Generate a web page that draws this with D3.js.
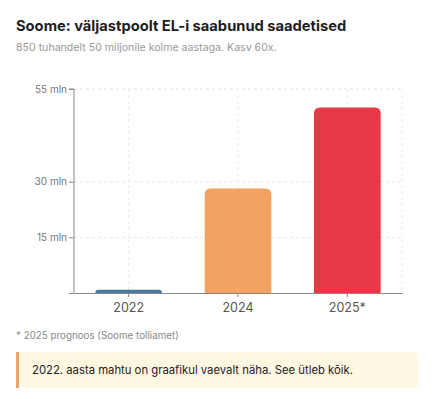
<!DOCTYPE html>
<html>
<head>
<meta charset="utf-8">
<script src="https://cdn.jsdelivr.net/npm/d3@7"></script>
<style>
  body { margin: 0; background: #fff; font-family: Inter, "Noto Sans", sans-serif; }
  svg text { font-family: Inter, "Noto Sans", sans-serif; }
</style>
</head>
<body>
<script>
// Data
const years = ["2022", "2024", "2025*"];
const shipments = [0.85, 28.2, 50]; // mln
const barColors = ["#457b9d", "#f4a261", "#e63946"];
const yTicks = [15, 30, 55];

const width = 433, height = 399;
const margin = {top: 89, right: 31, bottom: 106, left: 74};

const svg = d3.select("body").append("svg")
    .attr("width", width)
    .attr("height", height);

// Title and subtitle
svg.append("text")
    .attr("x", 16).attr("y", 31)
    .attr("font-size", "14.7px")
    .attr("font-weight", 700)
    .attr("fill", "#1d1d1f")
    .text("Soome: väljastpoolt EL-i saabunud saadetised");

svg.append("text")
    .attr("x", 16).attr("y", 51)
    .attr("font-size", "10.6px")
    .attr("fill", "#999")
    .text("850 tuhandelt 50 miljonile kolme aastaga. Kasv 60x.");

const x = d3.scaleBand()
    .domain(years)
    .range([margin.left, width - margin.right])
    .paddingInner(0.39)
    .paddingOuter(0.195);

const y = d3.scaleLinear()
    .domain([0, 55])
    .range([height - margin.bottom, margin.top]);

const g = svg.append("g");

// Grid lines
g.selectAll(".hgrid")
    .data(yTicks)
  .enter().append("line")
    .attr("x1", margin.left).attr("x2", width - margin.right)
    .attr("y1", d => y(d)).attr("y2", d => y(d))
    .attr("stroke", "#e6e6e6")
    .attr("stroke-dasharray", "3,3");

g.selectAll(".vgrid")
    .data(years)
  .enter().append("line")
    .attr("x1", d => x(d) + x.bandwidth() / 2)
    .attr("x2", d => x(d) + x.bandwidth() / 2)
    .attr("y1", y(55)).attr("y2", y(0))
    .attr("stroke", "#ececec")
    .attr("stroke-dasharray", "3,3");

g.append("line")
    .attr("x1", width - margin.right).attr("x2", width - margin.right)
    .attr("y1", y(55)).attr("y2", y(0))
    .attr("stroke", "#ececec")
    .attr("stroke-dasharray", "3,3");

// Bars with rounded top corners
const r = 6;
function barPath(d, i) {
  const x0 = x(years[i]), w = x.bandwidth();
  const top = y(d), bottom = y(0);
  const rr = Math.min(r, (bottom - top), w / 2);
  return `M${x0},${bottom}V${top + rr}Q${x0},${top} ${x0 + rr},${top}` +
         `H${x0 + w - rr}Q${x0 + w},${top} ${x0 + w},${top + rr}V${bottom}Z`;
}

g.selectAll(".bar")
    .data(shipments)
  .enter().append("path")
    .attr("class", "bar")
    .attr("d", barPath)
    .attr("fill", (d, i) => barColors[i]);

// Axes
const yAxis = d3.axisLeft(y)
    .tickValues([0].concat(yTicks))
    .tickSize(5)
    .tickFormat(d => d === 0 ? "" : d + " mln");

const yG = svg.append("g")
    .attr("transform", `translate(${margin.left},0)`)
    .call(yAxis);
yG.select(".domain").attr("stroke", "#888").attr("d", `M-5,${y(55)}H0V${y(0)}`);
yG.selectAll(".tick line").attr("stroke", "#888");
yG.selectAll("text").attr("fill", "#777").attr("font-size", "10px").attr("x", -7);

const xAxis = d3.axisBottom(x).tickSize(4).tickSizeOuter(0);
const xG = svg.append("g")
    .attr("transform", `translate(0,${y(0)})`)
    .call(xAxis);
xG.select(".domain").attr("stroke", "#888");
xG.selectAll(".tick line").attr("stroke", "#888");
xG.selectAll("text").attr("fill", "#555").attr("font-size", "12.5px").attr("dy", "0.95em");

// Footnote
svg.append("text")
    .attr("x", 16).attr("y", 339)
    .attr("font-size", "9.8px")
    .attr("fill", "#888")
    .text("* 2025 prognoos (Soome tolliamet)");

// Callout
svg.append("rect")
    .attr("x", 16).attr("y", 352)
    .attr("width", 402).attr("height", 36)
    .attr("rx", 4)
    .attr("fill", "#fef7e2");
svg.append("rect")
    .attr("x", 16).attr("y", 352)
    .attr("width", 3).attr("height", 36)
    .attr("fill", "#e9a46c");
svg.append("text")
    .attr("x", 32).attr("y", 374)
    .attr("font-size", "11.3px")
    .attr("fill", "#222")
    .text("2022. aasta mahtu on graafikul vaevalt näha. See ütleb kõik.");
</script>
</body>
</html>
